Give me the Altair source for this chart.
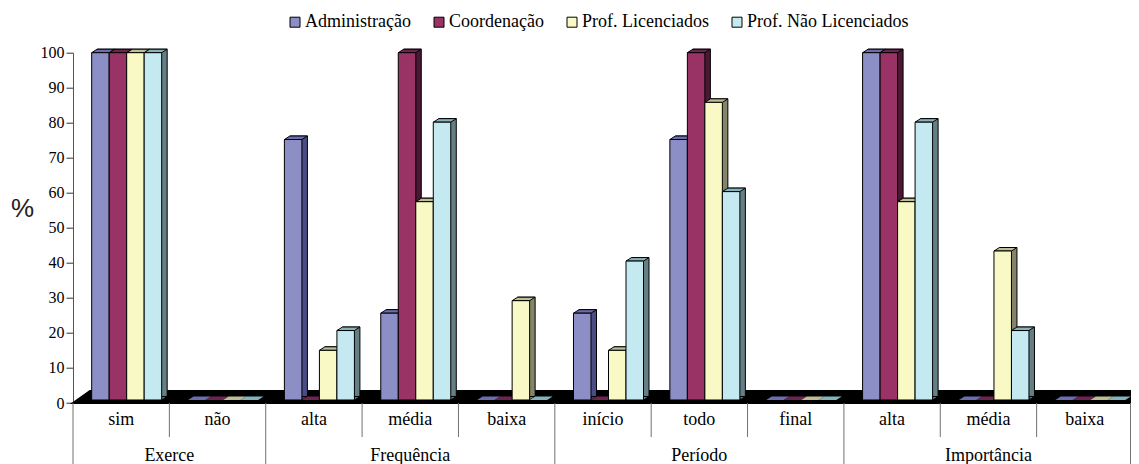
import altair as alt
import pandas as pd

categories = ["sim", "não", "alta", "média", "baixa", "início", "todo", "final", "alta", "média", "baixa"]
groups = ["Exerce", "Frequência", "Período", "Importância"]
group_starts = [0, 2, 5, 8]
group_ends = [2, 5, 8, 11]
series = ["Administração", "Coordenação", "Prof. Licenciados", "Prof. Não Licenciados"]
administracao = [100, 0, 75, 25, 0, 25, 75, 0, 100, 0, 0]
coordenacao = [100, 0, 0, 100, 0, 0, 100, 0, 100, 0, 0]
licenciados = [100, 0, 14.3, 57.1, 28.6, 14.3, 85.7, 0, 57.1, 42.9, 0]
nao_licenciados = [100, 0, 20, 80, 0, 40, 60, 0, 80, 20, 0]
front_colors = ["#8C8EC6", "#993366", "#F9F9C6", "#C5E9F1"]
top_colors = ["#6B6DB0", "#6E2450", "#BDBD96", "#86B4BC"]
side_colors = ["#4B4C85", "#4A1833", "#84846A", "#667F85"]

W, H = 1060, 350.3
VIEW_W = 1058
DX, DY, HALF = 5.5, 3.5, 8.75
SHIFT = 5.5
LIFT = 3
FONT = "Liberation Serif"

ids = [f"{i:02d}" for i in range(len(categories))]
values = [administracao, coordenacao, licenciados, nao_licenciados]
rows = [
    {"id": ids[i], "series": s, "value": values[k][i]}
    for k, s in enumerate(series)
    for i in range(len(categories))
]
df = pd.DataFrame(rows)


def x_band(shift):
    return alt.X(
        "id:N",
        scale=alt.Scale(domain=ids, range=[shift, W + shift], paddingInner=0.2735, paddingOuter=0.13675, align=0.5),
        axis=None,
    )


xo = alt.XOffset("series:N", scale=alt.Scale(domain=series, paddingInner=0, paddingOuter=0))
yscale = alt.Scale(domain=[0, 100], range=[H - LIFT, 0])
yscale_side = alt.Scale(domain=[0, 100], range=[H - LIFT - DY, -DY])
yb = alt.Y("value:Q", scale=yscale, axis=None, stack=None)
ys = alt.Y("value:Q", scale=yscale_side, axis=None, stack=None)
yb0 = alt.Y(datum=0, scale=yscale, axis=None)
xlin = alt.Scale(domain=[0, len(categories)], range=[0, W])
# the last separator would fall just past the page's right edge: clamp it inside
xrule = alt.Scale(domain=[0, len(categories) - 0.026], range=[0, W - 2.5], clamp=True)

# floor + value axis
floor = alt.Chart(pd.DataFrame({"a": [0]})).mark_point(
    shape=f"M0,0L17,-12L{W+17},-12L{W},0Z", size=4, filled=True, fill="black", stroke="black", opacity=1
).encode(
    x=alt.X(datum=0, scale=xlin, axis=None),
    y=alt.Y(
        datum=0,
        scale=alt.Scale(domain=[0, 100], range=[H, 0]),
        axis=alt.Axis(
            values=list(range(0, 101, 10)), grid=False, tickSize=7, tickColor="#333333", domainColor="#555555",
            labelFont=FONT, labelFontSize=16, labelColor="black", labelPadding=2,
            title="%", titleAngle=0, titleFont="Liberation Sans", titleFontSize=26, titleFontWeight="normal",
            titleColor="#222222", titleX=-51, titleY=169,
        ),
    ),
)

layers = [floor]
for k, s in enumerate(series):
    base = alt.Chart(df).transform_filter(alt.datum.series == s)
    nz = base.transform_filter(alt.datum.value > 0)
    z = base.transform_filter(alt.datum.value == 0)
    side = nz.mark_bar(fill=side_colors[k], stroke="black", strokeWidth=1).encode(
        x=x_band(SHIFT + DX), xOffset=xo, y=ys
    )
    foot = nz.mark_point(
        shape=f"M{HALF},0L{HALF+DX},{-DY}L{HALF},{-DY}Z", size=4, filled=True, fill=side_colors[k],
        stroke="black", strokeWidth=1, opacity=1,
    ).encode(x=x_band(SHIFT), xOffset=xo, y=yb0)
    top = nz.mark_point(
        shape=f"M{-HALF},0L{-HALF+DX},{-DY}L{HALF+DX},{-DY}L{HALF},0Z", size=4, filled=True, fill=top_colors[k],
        stroke="black", strokeWidth=1, opacity=1,
    ).encode(x=x_band(SHIFT), xOffset=xo, y=yb)
    tile = z.mark_point(
        shape=f"M{-HALF},0L{-HALF+DX},{-DY}L{HALF+DX},{-DY}L{HALF},0Z", size=4, filled=True, fill=top_colors[k],
        strokeWidth=0, opacity=1,
    ).encode(x=x_band(SHIFT), xOffset=xo, y=yb)
    front = nz.mark_bar(stroke="black", strokeWidth=1).encode(
        x=x_band(SHIFT), xOffset=xo, y=yb,
        color=alt.Color(
            "series:N",
            scale=alt.Scale(domain=series, range=front_colors),
            legend=alt.Legend(
                orient="none", legendX=213, legendY=-39.5, direction="horizontal", columns=4, title=None,
                symbolType="square", symbolSize=100, symbolStrokeColor="black", symbolStrokeWidth=1,
                symbolOpacity=1, labelFont=FONT, labelFontSize=18, labelColor="black", labelLimit=300,
                columnPadding=19, labelOffset=1,
            ),
        ),
    )
    layers += [side, foot, tile, top, front]

n = len(categories)
all_bounds = list(range(n + 1))
long_bounds = sorted(set(group_starts + group_ends))
short_bounds = [b for b in all_bounds if b not in long_bounds]
rule_color = "#707070"
short_rules = alt.Chart(pd.DataFrame({"b": short_bounds})).mark_rule(color=rule_color, strokeWidth=1).encode(
    x=alt.X("b:Q", scale=xlin, axis=None), y=alt.value(H), y2=alt.value(H + 34)
)
long_rules = alt.Chart(pd.DataFrame({"b": long_bounds})).mark_rule(color=rule_color, strokeWidth=1).encode(
    x=alt.X("b:Q", scale=xrule, axis=None), y=alt.value(H), y2=alt.value(H + 61)
)
cat_labels = alt.Chart(pd.DataFrame({"p": [i + 0.5 for i in range(n)], "t": categories})).mark_text(
    font=FONT, fontSize=18, color="black", baseline="middle"
).encode(x=alt.X("p:Q", scale=xlin, axis=None), y=alt.value(H + 17), text="t:N")
group_labels = alt.Chart(
    pd.DataFrame({"p": [(a + b) / 2 for a, b in zip(group_starts, group_ends)], "t": groups})
).mark_text(font=FONT, fontSize=18, color="black", baseline="middle").encode(
    x=alt.X("p:Q", scale=xlin, axis=None), y=alt.value(H + 53), text="t:N"
)
layers += [short_rules, long_rules, cat_labels, group_labels]

chart = (
    alt.layer(*layers)
    .resolve_scale(x="independent", y="independent")
    .properties(
        width=VIEW_W, height=H, background="white",
        autosize=alt.AutoSizeParams(type="none"),
        padding={"left": 65, "top": 44.7, "right": 0, "bottom": 61},
    )
    .configure_view(stroke=None)
)
chart.save("out.html", embed_options={"renderer": "svg", "actions": False})
